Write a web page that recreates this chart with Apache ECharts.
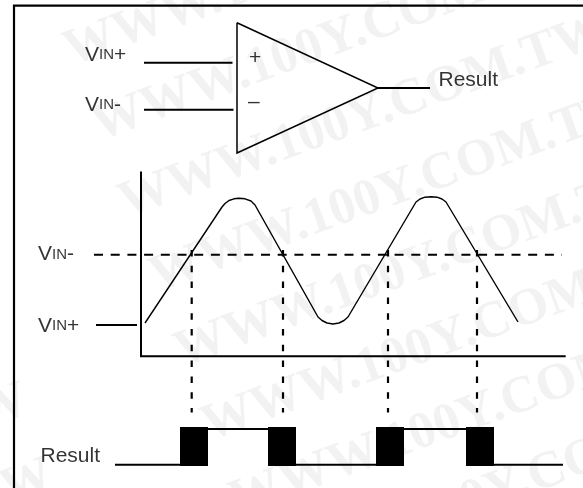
<!DOCTYPE html>
<html><head><meta charset="utf-8">
<style>html,body{margin:0;padding:0;background:#fff}#c{width:583px;height:488px}</style>
<script src="https://cdn.jsdelivr.net/npm/echarts@6/dist/echarts.min.js"></script>
</head><body><div id="c"></div>
<script>
const frame=[[14,488],[14,5.7],[583,5.7]];
const triangle=[[237,22.7],[378,88],[237,153],[237,22.7]];
const inPlus=[[144,62.7],[232.5,62.7]];
const inMinus=[[144,109.7],[233.5,109.7]];
const output=[[378,88],[430,88]];
const axisLine=[[141,171.5],[141,356.3],[565.7,356.3]];
const threshold=[[94,254.7],[562,254.7]];
const plusTick=[[96,325],[137,325]];
const wave=[[145,323],[222,207],[225,203.5],[229,200.5],[234,198.8],[239,198.3],[245,198.8],[251,201],[255,205],[318,317],[322,320.5],[327,323],[333,324],[339,323],[344,320.5],[348,317],[416,202],[420,199],[425,197.2],[431,196.7],[437,197.2],[442,199],[446,202],[518,322]];
const dropX=[191.7,283,388,477];
const dropTop=250, dropBottom=412.5;
const resultLow1=[[115,464.8],[180,464.8]];
const resultHigh1=[[208,429],[268,429]];
const resultLow2=[[296,464.8],[376,464.8]];
const resultHigh2=[[404,429],[466,429]];
const resultLow3=[[494,464.8],[563,464.8]];
const pulses=[[180,208],[268,296],[376,404],[466,494]];
const pulseTop=427, pulseBottom=466;
const labels=[
 [85,55,'{v|V}{s|IN}{v|+}'],[85,105,'{v|V}{s|IN}{v|-}'],[438.5,80,'{r|Result}'],
 [38,254.5,'{v|V}{s|IN}{v|-}'],[38,326,'{v|V}{s|IN}{v|+}'],[40.5,456,'{r|Result}'],
 [249,58,'{p|+}'],[248,102,'{p|–}']];
const watermarkText='WWW.100Y.COM.TW';
const watermarks=[[308,-35],[336,40],[363,117],[394,191],[419,266],[446,340],[474,415],[501,490],[-215,487],[-190,562]];

const lineSeries=(data,width,style)=>({type:'line',data,symbol:'none',silent:true,animation:false,z:3,clip:false,
  lineStyle:Object.assign({color:'#000',width,cap:'butt',join:'miter'},style||{})});
const chart=echarts.init(document.getElementById('c'),null,{renderer:'canvas'});
chart.setOption({
 animation:false,backgroundColor:'#fff',
 grid:{left:0,right:0,top:0,bottom:0},
 xAxis:{type:'value',min:0,max:583,show:false},
 yAxis:{type:'value',min:0,max:488,inverse:true,show:false},
 series:[
  {type:'scatter',data:watermarks,symbolSize:0,z:1,silent:true,clip:false,
   label:{show:true,position:'inside',formatter:()=>watermarkText,rotate:20,color:'#efefef',fontFamily:'Liberation Serif',fontWeight:'bold',fontSize:52}},
  lineSeries(frame,2.2),
  lineSeries(triangle,1.5),
  lineSeries(inPlus,2),lineSeries(inMinus,2),lineSeries(output,2),
  lineSeries(axisLine,2),
  lineSeries(threshold,2,{type:[9,7.7]}),
  lineSeries(plusTick,2),
  lineSeries(wave,1.4,{join:'round'}),
  ...dropX.map(x=>lineSeries([[x,dropTop],[x,dropBottom]],2.2,{type:[6.5,9.3]})),
  lineSeries(resultLow1,2),lineSeries(resultHigh1,2),lineSeries(resultLow2,2),lineSeries(resultHigh2,2),lineSeries(resultLow3,2),
  {type:'custom',z:4,silent:true,data:pulses,renderItem:(p,api)=>{
     const a=api.coord([api.value(0),pulseTop]),b=api.coord([api.value(1),pulseBottom]);
     return {type:'rect',shape:{x:a[0],y:a[1],width:b[0]-a[0],height:b[1]-a[1]},style:{fill:'#000'}};},encode:{x:[0,1]}},
  {type:'scatter',data:labels,symbolSize:0,z:5,silent:true,
   label:{show:true,position:'right',distance:0,formatter:p=>p.data[2],rich:{
     v:{fontFamily:'Liberation Sans',fontSize:21,color:'#000'},
     s:{fontFamily:'Liberation Sans',fontSize:15,color:'#000'},
     r:{fontFamily:'Liberation Sans',fontSize:21,color:'#000'},
     p:{fontFamily:'Liberation Sans',fontSize:21,color:'#000'}}}}
 ]
});
</script></body></html>
